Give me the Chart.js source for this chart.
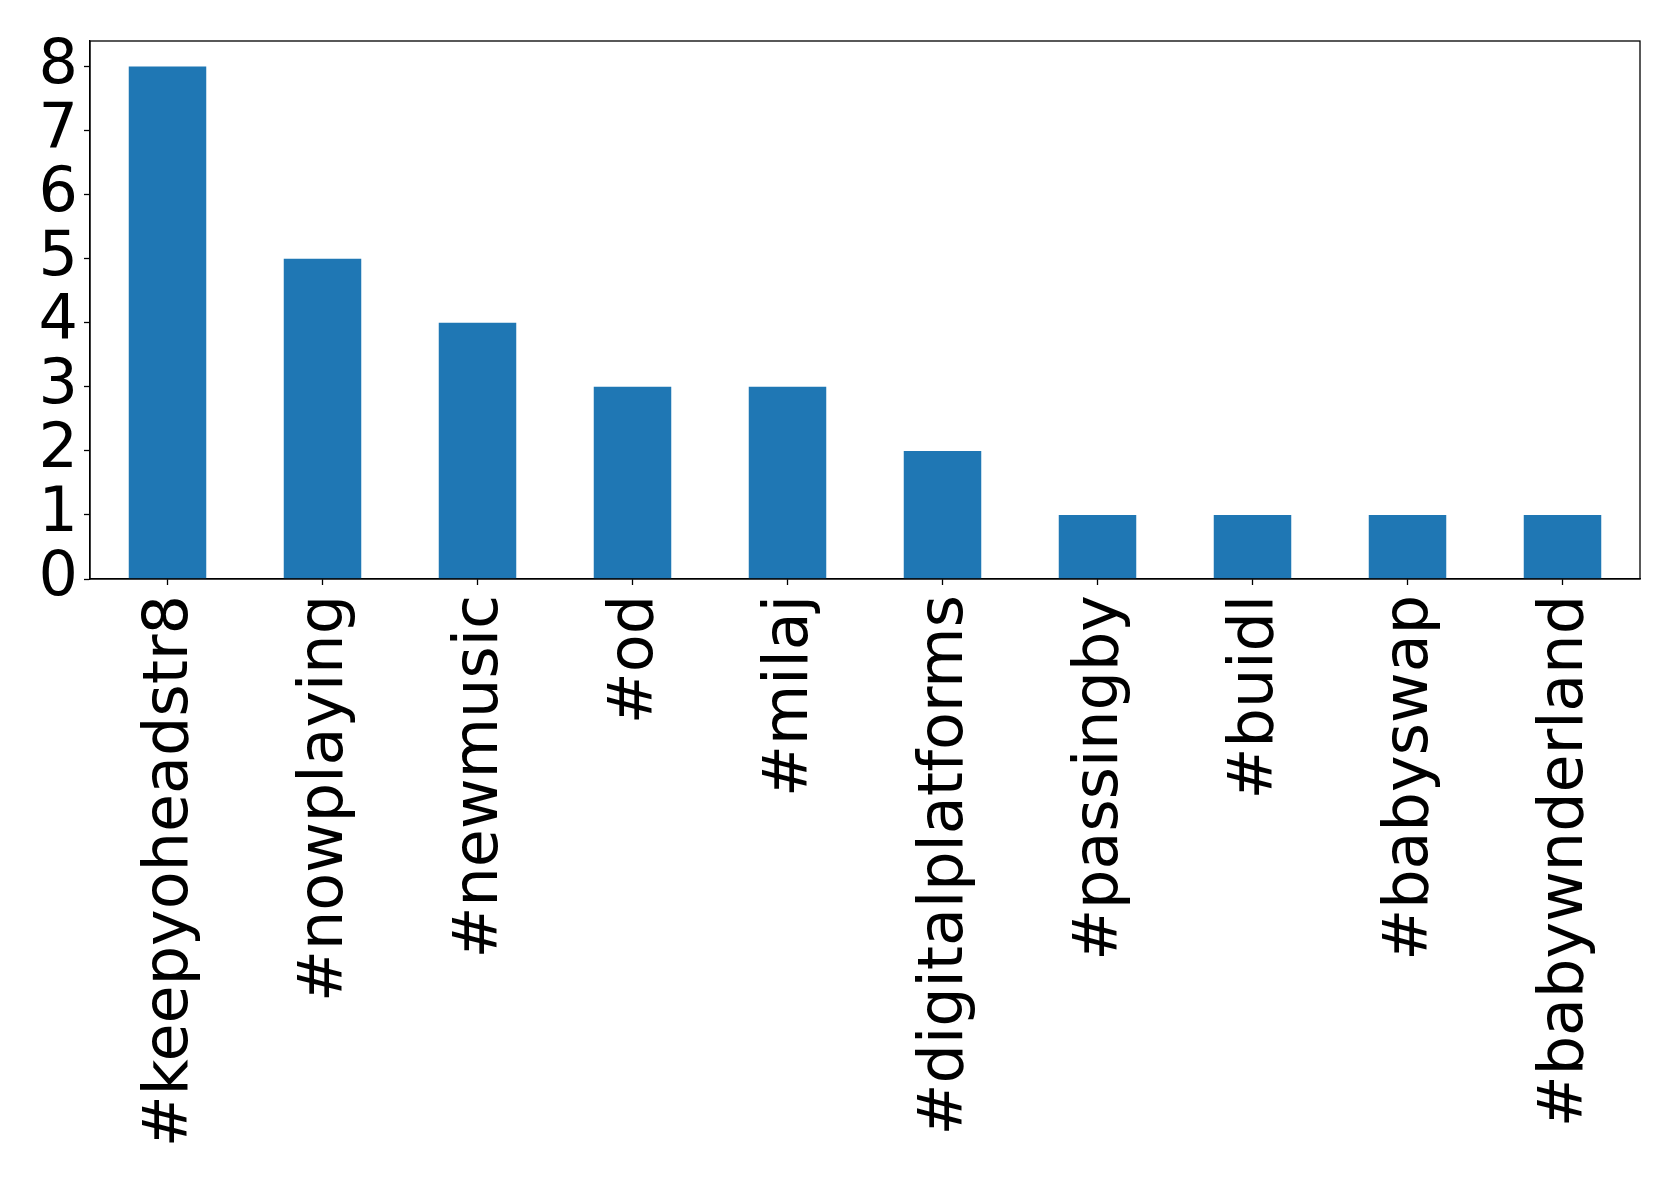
<!DOCTYPE html>
<html>
<head>
<meta charset="utf-8">
<script src="https://cdn.jsdelivr.net/npm/chart.js@4/dist/chart.umd.min.js"></script>
<style>
    body { margin: 0; background: #fff; }
    #wrap { width: 1679px; height: 1185px; position: relative; }
</style>
</head>
<body>
<div id="wrap"><canvas id="hashtag-chart"></canvas></div>
<script>
// Hashtag counts
const hashtags = ['#keepyoheadstr8', '#nowplaying', '#newmusic', '#od', '#milaj',
    '#digitalplatforms', '#passingby', '#buidl', '#babyswap', '#babywnderland'];
const counts = [8, 5, 4, 3, 3, 2, 1, 1, 1, 1];
const yTicks = [0, 1, 2, 3, 4, 5, 6, 7, 8];
const yMax = 8.4;

// Box round the plot area, like matplotlib's spines
const frame = {
    id: 'frame',
    afterDraw(chart) {
        const a = chart.chartArea;
        const ctx = chart.ctx;
        ctx.save();
        ctx.strokeStyle = '#000';
        ctx.lineWidth = 1.3;
        ctx.strokeRect(a.left, a.top, a.right - a.left, a.bottom - a.top);
        ctx.restore();
    }
};

const font = { family: 'DejaVu Sans', size: 62 };

const ctx = document.getElementById('hashtag-chart').getContext('2d');
const hashtagChart = new Chart(ctx, {
    type: 'bar',
    data: {
        labels: hashtags,
        datasets: [{
            data: counts,
            backgroundColor: '#1f77b4',
            barPercentage: 0.5,
            categoryPercentage: 1.0
        }]
    },
    options: {
        responsive: true,
        maintainAspectRatio: false,
        animation: false,
        layout: { padding: { top: 41, right: 39, left: 0, bottom: 0 } },
        plugins: { legend: { display: false }, tooltip: { enabled: false } },
        scales: {
            x: {
                grid: { offset: false, drawOnChartArea: false, tickLength: 6, tickColor: '#000', tickWidth: 1.3 },
                border: { color: '#000', width: 1.3 },
                ticks: {
                    color: '#000',
                    font: font,
                    minRotation: 90,
                    maxRotation: 90,
                    autoSkip: false,
                    padding: 10,
                    labelOffset: 3
                },
                afterFit: (scale) => {
                    scale.height = 1185 - 579;
                    scale.paddingLeft = 0;
                    scale.paddingRight = 0;
                }
            },
            y: {
                min: 0,
                max: yMax,
                grid: { drawOnChartArea: false, tickLength: 6, tickColor: '#000', tickWidth: 1.3 },
                border: { color: '#000', width: 1.3 },
                afterBuildTicks: (scale) => { scale.ticks = yTicks.map(v => ({ value: v })); },
                ticks: {
                    color: '#000',
                    font: font,
                    autoSkip: false,
                    padding: 6
                },
                afterFit: (scale) => {
                    scale.width = 90;
                    scale.paddingTop = 0;
                    scale.paddingBottom = 0;
                }
            }
        }
    },
    plugins: [frame]
});
</script>
</body>
</html>
